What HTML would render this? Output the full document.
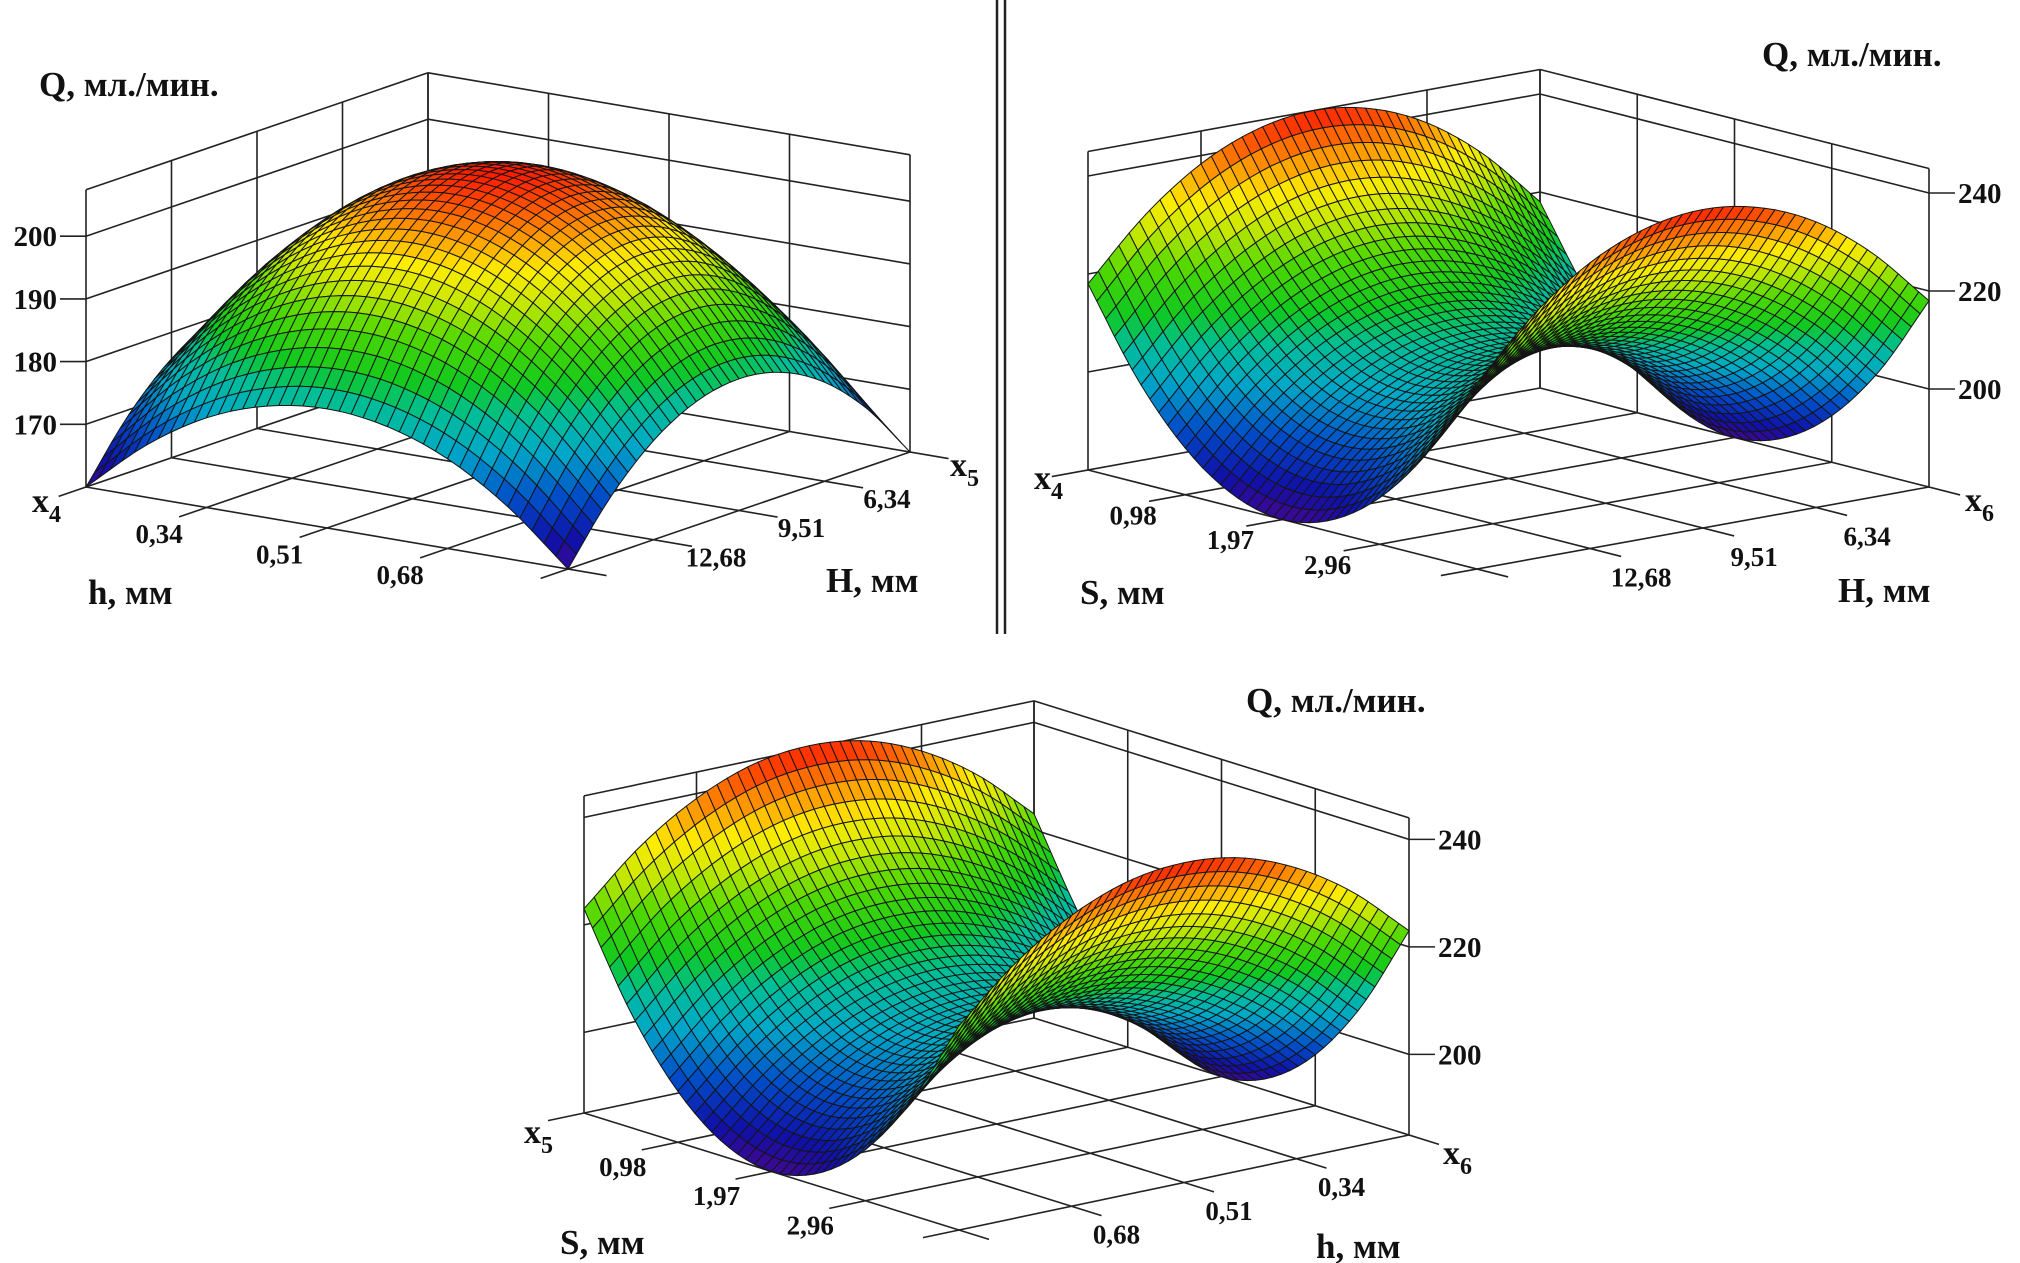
<!DOCTYPE html>
<html><head><meta charset="utf-8"><title>Q response surfaces</title>
<style>
html,body{margin:0;padding:0;background:#fff;}
svg{display:block;}
text{font-family:"Liberation Serif","DejaVu Serif",serif;font-weight:bold;fill:#111;}
</style></head>
<body>
<svg id="chart" width="2020" height="1263" viewBox="0 0 2020 1263" xmlns="http://www.w3.org/2000/svg">
  <rect x="0" y="0" width="2020" height="1263" fill="#fff"/>
  <line x1="997" y1="0" x2="997" y2="634" stroke="#222" stroke-width="2.5"/>
  <line x1="1005" y1="0" x2="1005" y2="634" stroke="#222" stroke-width="2.5"/>
  <g id="p1"></g>
  <g id="p2"></g>
  <g id="p3"></g>
  <g>
  <text x="39" y="96" font-size="35">Q, мл./мин.</text>
  <text x="32" y="512" font-size="34">x<tspan font-size="24" dy="10">4</tspan></text>
  <text x="950" y="476" font-size="34">x<tspan font-size="24" dy="10">5</tspan></text>
  <text x="88" y="604" font-size="35">h, мм</text>
  <text x="826" y="592" font-size="35">H, мм</text>
  <text x="1762" y="66" font-size="35">Q, мл./мин.</text>
  <text x="1034" y="489" font-size="34">x<tspan font-size="24" dy="10">4</tspan></text>
  <text x="1965" y="511" font-size="34">x<tspan font-size="24" dy="10">6</tspan></text>
  <text x="1080" y="604" font-size="35">S, мм</text>
  <text x="1838" y="602" font-size="35">H, мм</text>
  <text x="1246" y="712" font-size="35">Q, мл./мин.</text>
  <text x="524" y="1143" font-size="34">x<tspan font-size="24" dy="10">5</tspan></text>
  <text x="1443" y="1164" font-size="34">x<tspan font-size="24" dy="10">6</tspan></text>
  <text x="560" y="1254" font-size="35">S, мм</text>
  <text x="1316" y="1258" font-size="35">h, мм</text>
  </g>
</svg>
<script>
// ---- Data: Q (ml/min) on a 9x9 grid; rows = first floor axis (back->left), cols = second (back->right)
const P1_Q = [
 [160,168.3,174.3,177.8,179,177.8,174.3,168.3,160],
 [169.2,179.0,186.1,190.3,191.7,190.3,186.1,179.0,169.2],
 [175.8,186.7,194.5,199.2,200.8,199.2,194.5,186.7,175.8],
 [179.7,191.3,199.6,204.5,206.2,204.5,199.6,191.3,179.7],
 [181,192.8,201.3,206.3,208,206.3,201.3,192.8,181],
 [179.7,191.3,199.6,204.5,206.2,204.5,199.6,191.3,179.7],
 [175.8,186.7,194.5,199.2,200.8,199.2,194.5,186.7,175.8],
 [169.2,179.0,186.1,190.3,191.7,190.3,186.1,179.0,169.2],
 [160,168.3,174.3,177.8,179,177.8,174.3,168.3,160]
];
const P2_Q = [
 [218,201.4,189.5,182.4,180,182.4,189.5,201.4,218],
 [229.8,213.2,201.3,194.2,191.8,194.2,201.3,213.2,229.8],
 [238.3,221.6,209.8,202.6,200.3,202.6,209.8,221.6,238.3],
 [243.3,226.7,214.8,207.7,205.3,207.7,214.8,226.7,243.3],
 [245,228.4,216.5,209.4,207,209.4,216.5,228.4,245],
 [243.3,226.7,214.8,207.7,205.3,207.7,214.8,226.7,243.3],
 [238.3,221.6,209.8,202.6,200.3,202.6,209.8,221.6,238.3],
 [229.8,213.2,201.3,194.2,191.8,194.2,201.3,213.2,229.8],
 [218,201.4,189.5,182.4,180,182.4,189.5,201.4,218]
];
const P3_Q = [
 [223,206.4,194.5,187.4,185,187.4,194.5,206.4,223],
 [232.4,215.8,203.9,196.8,194.4,196.8,203.9,215.8,232.4],
 [239.1,222.5,210.6,203.5,201.1,203.5,210.6,222.5,239.1],
 [243.2,226.6,214.7,207.5,205.2,207.5,214.7,226.6,243.2],
 [244.5,227.9,216,208.9,206.5,208.9,216,227.9,244.5],
 [243.2,226.6,214.7,207.5,205.2,207.5,214.7,226.6,243.2],
 [239.1,222.5,210.6,203.5,201.1,203.5,210.6,222.5,239.1],
 [232.4,215.8,203.9,196.8,194.4,196.8,203.9,215.8,232.4],
 [223,206.4,194.5,187.4,185,187.4,194.5,206.4,223]
];
const P1_zTicks = [170,180,190,200];
const P2_zTicks = [200,220,240];
const P3_zTicks = [200,220,240];
const P1_tLabels = ['0,34','0,51','0,68'];
const P1_sLabels = ['6,34','9,51','12,68'];
const P2_tLabels = ['0,98','1,97','2,96'];
const P2_sLabels = ['6,34','9,51','12,68'];
const P3_tLabels = ['0,98','1,97','2,96'];
const P3_sLabels = ['0,34','0,51','0,68'];
const P1_zRange = [160,207.4];
const P2_zRange = [180,245];
const P3_zRange = [185,244];

const NS='http://www.w3.org/2000/svg';
function mk(tag, attrs){const e=document.createElementNS(NS,tag);for(const k in attrs)e.setAttribute(k,attrs[k]);return e;}

const CMAP=[[0,[64,8,144]],[0.08,[16,16,168]],[0.2,[0,80,200]],[0.32,[0,168,200]],[0.42,[0,190,150]],[0.5,[16,200,32]],[0.62,[80,216,0]],[0.72,[200,232,0]],[0.8,[255,236,0]],[0.88,[255,150,0]],[1,[255,24,0]]];
function cmap(f){f=Math.max(0,Math.min(1,f));for(let i=1;i<CMAP.length;i++){if(f<=CMAP[i][0]){const a=CMAP[i-1],b=CMAP[i];const r=(f-a[0])/(b[0]-a[0]);const c=a[1].map((v,k)=>Math.round(v+(b[1][k]-v)*r));return 'rgb('+c.join(',')+')';}}return 'rgb(255,24,0)';}

function G(g,i,j){const n=g.length-1,m=g[0].length-1;
  if(i<0)return 2*G(g,0,j)-G(g,1,j); if(i>n)return 2*G(g,n,j)-G(g,n-1,j);
  if(j<0)return 2*G(g,i,0)-G(g,i,1); if(j>m)return 2*G(g,i,m)-G(g,i,m-1);
  return g[i][j];}
function cr(p0,p1,p2,p3,t){return 0.5*((2*p1)+(-p0+p2)*t+(2*p0-5*p1+4*p2-p3)*t*t+(-p0+3*p1-3*p2+p3)*t*t*t);}
function sample(g,u,v){const n=g.length-1,m=g[0].length-1;
  let i=Math.min(Math.floor(u),n-1),j=Math.min(Math.floor(v),m-1);const fu=u-i,fv=v-j;
  const rows=[];for(let a=-1;a<=2;a++){rows.push(cr(G(g,i+a,j-1),G(g,i+a,j),G(g,i+a,j+1),G(g,i+a,j+2),fv));}
  return cr(rows[0],rows[1],rows[2],rows[3],fu);}

function drawPlot(gid, cfg){
  const root=document.getElementById(gid);
  const {B,L,R,zr,k,grid,N}=cfg;
  const P=(s,t)=>[B[0]+s*(L[0]-B[0])+t*(R[0]-B[0]), B[1]+s*(L[1]-B[1])+t*(R[1]-B[1])];
  const Y=(y0,z)=>y0-(z-zr[0])*k;
  const line=(a,b,name,w)=>{const e=mk('line',{x1:a[0],y1:a[1],x2:b[0],y2:b[1],stroke:'#222','stroke-width':w||1.6});
    
    
    root.appendChild(e);};
  const zLevels=cfg.ticks.concat([zr[1]]);
  for(let q=0;q<=4;q++){const f=q/4;
    const a=P(f,0); line(a,[a[0],Y(a[1],zr[1])],'left-wall-gridline');
    const b=P(0,f); line(b,[b[0],Y(b[1],zr[1])],'right-wall-gridline');}
  zLevels.forEach(z=>{const a=P(1,0),b=P(0,0),c=P(0,1);
    line([a[0],Y(a[1],z)],[b[0],Y(b[1],z)],'left-wall-level-line');
    line([b[0],Y(b[1],z)],[c[0],Y(c[1],z)],'right-wall-level-line');});
  for(let q=0;q<=4;q++){const f=q/4;
    line(P(0,f),P(1.08,f),'floor-gridline-s');
    line(P(f,0),P(f,1.08),'floor-gridline-t');}
  const mn=Math.min(...grid.flat()),mx=Math.max(...grid.flat());
  const n=grid.length-1;
  const H=[];for(let i=0;i<=N;i++){H.push([]);for(let j=0;j<=N;j++){H[i].push(sample(grid,i/N*n,j/N*n));}}
  const cells=[];for(let i=0;i<N;i++)for(let j=0;j<N;j++)cells.push([i,j]);
  cells.sort((a,b)=>(a[0]+a[1])-(b[0]+b[1]));
  const sg=mk('g',{});
  
  
  root.appendChild(sg);
  cells.forEach(([i,j])=>{
    const pts=[[i,j],[i+1,j],[i+1,j+1],[i,j+1]].map(([a,b])=>{const p=P(a/N,b/N);return [p[0],Y(p[1],H[a][b])];});
    const q=(H[i][j]+H[i+1][j]+H[i+1][j+1]+H[i][j+1])/4;
    const poly=mk('polygon',{points:pts.map(p=>p[0].toFixed(1)+','+p[1].toFixed(1)).join(' '),fill:cmap((q-mn)/(mx-mn)),stroke:'#151515','stroke-width':1,'stroke-linejoin':'round'});
    
    
    sg.appendChild(poly);});
  const ax=cfg.zSide==='left'?P(1,0):P(0,1);
  cfg.ticks.forEach(z=>{const y=Y(ax[1],z);
    const x2=cfg.zSide==='left'?ax[0]-26:ax[0]+26;
    line([ax[0],y],[x2,y],'z-tick');
    const t=mk('text',{x:cfg.zSide==='left'?x2-3:x2+3,y:y+10,'font-size':29,'text-anchor':cfg.zSide==='left'?'end':'start'});
    t.textContent=String(z);
    
    
    root.appendChild(t);});
  cfg.tLabels.forEach((lab,q)=>{const e=P(1.08,(q+1)/4);
    const t=mk('text',{x:e[0]+cfg.tOff[0],y:e[1]+cfg.tOff[1]+10,'font-size':27,'text-anchor':'middle'});
    t.textContent=lab;
    
    
    root.appendChild(t);});
  cfg.sLabels.forEach((lab,q)=>{const e=P((q+1)/4,1.08);
    const t=mk('text',{x:e[0]+cfg.sOff[0],y:e[1]+cfg.sOff[1]+10,'font-size':27,'text-anchor':'middle'});
    t.textContent=lab;
    
    
    root.appendChild(t);});
}

drawPlot('p1',{B:[428,370],L:[86,487],R:[910,452],zr:P1_zRange,k:6.27,grid:P1_Q,N:40,ticks:P1_zTicks,zSide:'left',tLabels:P1_tLabels,sLabels:P1_sLabels,tOff:[-20,16],sOff:[24,10]});
drawPlot('p2',{B:[1540,388],L:[1088,470],R:[1929,487],zr:P2_zRange,k:4.9,grid:P2_Q,N:44,ticks:P2_zTicks,zSide:'right',tLabels:P2_tLabels,sLabels:P2_sLabels,tOff:[-16,13],sOff:[20,20]});
drawPlot('p3',{B:[1034,1018],L:[584,1113],R:[1409,1135],zr:P3_zRange,k:5.375,grid:P3_Q,N:44,ticks:P3_zTicks,zSide:'right',tLabels:P3_tLabels,sLabels:P3_sLabels,tOff:[-19,16],sOff:[15,18]});
</script>
</body></html>
